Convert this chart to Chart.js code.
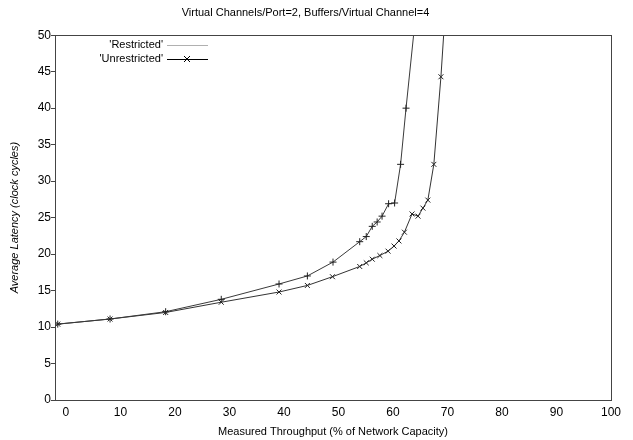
<!DOCTYPE html>
<html>
<head>
<meta charset="utf-8">
<script src="https://cdn.jsdelivr.net/npm/chart.js@4/dist/chart.umd.min.js"></script>
<style>
html,body{margin:0;padding:0;background:#fff;}
#wrap{width:633px;height:440px;}
</style>
</head>
<body>
<div id="wrap"><canvas id="c" width="633" height="440"></canvas></div>
<script>
const chartTitle = "Virtual Channels/Port=2, Buffers/Virtual Channel=4";
const xTitle = "Measured Throughput (% of Network Capacity)";
const yTitle = "Average Latency (clock cycles)";
const xTicks = [0,10,20,30,40,50,60,70,80,90,100];
const yTicks = [0,5,10,15,20,25,30,35,40,45,50];

const restrictedLabel = "'Restricted'";
const restrictedX = [-1.5, 8.1, 18.3, 28.5, 39.1, 44.3, 49.0, 53.9, 55.1, 56.2, 57.1, 58.0, 59.2, 60.3, 61.4, 62.4, 65.0];
const restrictedY = [10.4, 11.1, 12.1, 13.8, 15.9, 17.0, 18.9, 21.7, 22.4, 23.8, 24.4, 25.2, 26.9, 27.0, 32.3, 40.0, 58.8];

const unrestrictedLabel = "'Unrestricted'";
const unrestrictedX = [-1.5, 8.1, 18.3, 28.5, 39.1, 44.3, 48.9, 53.9, 55.1, 56.2, 57.6, 59.1, 60.2, 61.1, 62.1, 63.5, 64.6, 65.5, 66.4, 67.5, 68.8, 70.0];
const unrestrictedY = [10.4, 11.1, 12.0, 13.4, 14.8, 15.7, 16.9, 18.3, 18.8, 19.3, 19.8, 20.4, 21.1, 21.8, 23.0, 25.5, 25.2, 26.3, 27.4, 32.3, 44.3, 58.0];

const FONT = "'Liberation Sans', Arial, sans-serif";

const boxPlugin = {
  id: 'box',
  afterDraw(chart) {
    const {ctx, chartArea: a} = chart;
    ctx.save();
    ctx.strokeStyle = '#444';
    ctx.lineWidth = 1;
    ctx.strokeRect(Math.round(a.left) + 0.5, Math.round(a.top) + 0.5, Math.round(a.right - a.left), Math.round(a.bottom - a.top));
    ctx.restore();
  }
};

const legendPlugin = {
  id: 'gnuLegend',
  afterDraw(chart) {
    const ctx = chart.ctx;
    const rows = [45, 59];
    ctx.save();
    ctx.font = "11px " + FONT;
    ctx.textAlign = 'right';
    ctx.textBaseline = 'middle';
    chart.data.datasets.forEach((ds, i) => {
      const y = rows[i];
      ctx.fillStyle = '#000';
      ctx.fillText(ds.label, 163, y);
      ctx.strokeStyle = ds.legendColor;
      ctx.lineWidth = 1;
      ctx.beginPath();
      ctx.moveTo(167, y + 0.5);
      ctx.lineTo(208, y + 0.5);
      ctx.stroke();
      if (ds.legendMarker) {
        ctx.strokeStyle = '#000';
        ctx.beginPath();
        ctx.moveTo(184, y - 3); ctx.lineTo(190, y + 3);
        ctx.moveTo(184, y + 3); ctx.lineTo(190, y - 3);
        ctx.stroke();
      }
    });
    ctx.restore();
  }
};

new Chart(document.getElementById('c'), {
  type: 'line',
  data: {
    datasets: [
      {
        label: restrictedLabel,
        data: restrictedX.map((x, i) => ({x: x, y: restrictedY[i]})),
        borderColor: '#3a3a3a',
        backgroundColor: '#3a3a3a',
        borderWidth: 1,
        pointStyle: 'cross',
        pointRadius: 3.5,
        pointBorderWidth: 1,
        pointBorderColor: '#222',
        tension: 0,
        legendColor: '#b0b0b0',
        legendMarker: false
      },
      {
        label: unrestrictedLabel,
        data: unrestrictedX.map((x, i) => ({x: x, y: unrestrictedY[i]})),
        borderColor: '#333',
        backgroundColor: '#333',
        borderWidth: 1,
        pointStyle: 'crossRot',
        pointRadius: 3.5,
        pointBorderWidth: 1,
        pointBorderColor: '#222',
        tension: 0,
        legendColor: '#000',
        legendMarker: true
      }
    ]
  },
  options: {
    responsive: false,
    animation: false,
    layout: {padding: {left: 0, right: 22, top: 0, bottom: 0}},
    plugins: {
      legend: {display: false},
      tooltip: {enabled: false},
      title: {
        display: true,
        text: chartTitle,
        color: '#000',
        font: {family: FONT, size: 11, weight: 'normal'},
        padding: {top: 6, bottom: 16}
      }
    },
    scales: {
      x: {
        type: 'linear',
        min: -2,
        max: 100,
        afterFit(s) { s.height = 40; },
        afterBuildTicks(s) { s.ticks = xTicks.map(v => ({value: v})); },
        grid: {display: false, drawTicks: false},
        border: {display: false},
        ticks: {color: '#000', font: {family: FONT, size: 12}, padding: 5, maxRotation: 0, autoSkip: false},
        title: {display: true, text: xTitle, color: '#000', font: {family: FONT, size: 11}, padding: {top: 0, bottom: 1}}
      },
      y: {
        type: 'linear',
        min: 0,
        max: 50,
        afterFit(s) { s.width = 55; },
        afterBuildTicks(s) { s.ticks = yTicks.map(v => ({value: v})); },
        grid: {drawOnChartArea: false, drawTicks: true, tickLength: 4, color: '#444'},
        border: {display: false},
        ticks: {color: '#000', font: {family: FONT, size: 12}, padding: 0, autoSkip: false},
        title: {display: true, text: yTitle, color: '#000', font: {family: FONT, size: 11, style: 'italic'}, padding: {top: 8, bottom: 0}}
      }
    }
  },
  plugins: [boxPlugin, legendPlugin]
});
</script>
</body>
</html>
